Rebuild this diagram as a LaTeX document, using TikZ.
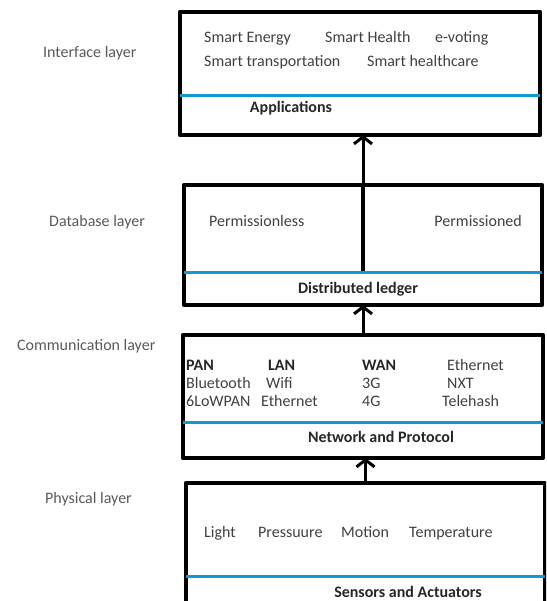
\documentclass[tikz,border=0pt]{standalone}
\usepackage{fontspec}
\setmainfont{Carlito}
\usetikzlibrary{arrows.meta}
\definecolor{sepblue}{RGB}{24,150,210}
\definecolor{txtgray}{RGB}{64,64,64}
\begin{document}
\begin{tikzpicture}[x=1pt, y=-1pt, font=\fontsize{16}{19}\selectfont, line join=round,
	>={Straight Barb[length=7pt,width=18pt]},
	layerbox/.style={draw, line width=4.5pt, outer sep=0pt, inner sep=0pt, anchor=north west},
	sepline/.style={sepblue, line width=3pt},
	item/.style={anchor=base west, inner sep=0pt, text=txtgray},
	itembf/.style={item, font=\fontsize{16}{19}\selectfont\bfseries, text=black!85},
	title/.style={anchor=base, inner sep=0pt, font=\fontsize{16}{19}\selectfont\bfseries, text=black!85},
	layername/.style={anchor=base west, inner sep=0pt, text=black!65},
	uparrow/.style={->, line width=3pt}]
	\useasboundingbox (0,0) rectangle (546,601);
	\clip (0,0) rectangle (546,601);
	% layer boxes
	\node[layerbox, minimum width=360pt, minimum height=123pt] (app) at (180,12) {};
	\node[layerbox, minimum width=358pt, minimum height=120pt] (led) at (184,185) {};
	\node[layerbox, minimum width=360pt, minimum height=123pt] (net) at (183,335) {};
	\node[layerbox, minimum width=359pt, minimum height=140pt] (sen) at (186,483) {};
	\draw[line width=4pt] (led.north) -- (led.north |- 0,272);
	% blue separators
	\draw[sepline] (app.west |- 0,96) -- (app.east |- 0,96);
	\draw[sepline] (led.west |- 0,272) -- (led.east |- 0,272);
	\draw[sepline] (net.west |- 0,422) -- (net.east |- 0,422);
	\draw[sepline] (sen.west |- 0,576) -- (sen.east |- 0,576);
	% arrows
	\draw[uparrow] (led.north) -- (led.north |- app.south);
	\draw[uparrow] (net.north) -- (net.north |- led.south);
	\draw[uparrow] (sen.north) -- (sen.north |- net.south);
	% layer names
	\node[layername] (lint) at (43,58) {Interface layer};
	\node[layername] (ldb) at (49,227) {Database layer};
	\node[layername] (lcom) at (17,350) {Communication layer};
	\node[layername] (lphy) at (45,503) {Physical layer};
	% interface layer
	\node[item] (energy) at (204,43) {Smart Energy};
	\node[item] (health) at (325,43) {Smart Health};
	\node[item] (vote) at (435,43) {e-voting};
	\node[item] (trans) at (204,67) {Smart transportation};
	\node[item] (hcare) at (367,67) {Smart healthcare};
	\node[title] (appt) at (291,113) {Applications};
	% database layer
	\node[item] (pless) at (209,227) {Permissionless};
	\node[item, anchor=base east] (pned) at (522,227) {Permissioned};
	\node[title] (ledt) at (358,293) {Distributed ledger};
	% communication layer
	\node[itembf] (pan) at (186,370) {PAN};
	\node[itembf] (lan) at (268,370) {LAN};
	\node[itembf] (wan) at (362,370) {WAN};
	\node[item] (eth) at (447,370) {Ethernet};
	\node[item] (bt) at (186,388) {Bluetooth};
	\node[item] (wifi) at (266,388) {Wifi};
	\node[item] (g3) at (362,388) {3G};
	\node[item] (nxt) at (447,388) {NXT};
	\node[item] (lowpan) at (186,406) {6LoWPAN};
	\node[item] (ethb) at (261,406) {Ethernet};
	\node[item] (g4) at (362,406) {4G};
	\node[item] (tele) at (442,406) {Telehash};
	\node[title] (nett) at (381,442) {Network and Protocol};
	% physical layer
	\node[item] (light) at (204,537) {Light};
	\node[item] (press) at (258,537) {Pressuure};
	\node[item] (motion) at (341,537) {Motion};
	\node[item] (temp) at (409,537) {Temperature};
	\node[title] (sent) at (408,597) {Sensors and Actuators};
\end{tikzpicture}
\end{document}
